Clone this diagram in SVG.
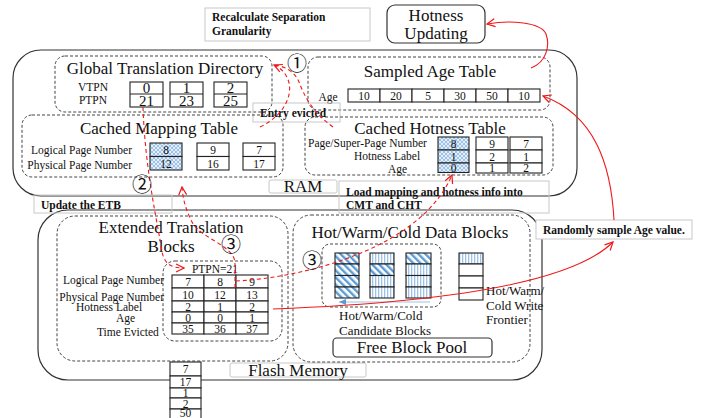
<svg xmlns="http://www.w3.org/2000/svg" width="704" height="418" viewBox="0 0 704 418">
<defs>
<style>
.t{font-family:"Liberation Serif","Times New Roman",serif;fill:#111}
.b{font-family:"Liberation Serif","Times New Roman",serif;font-weight:bold;font-size:11.5px;fill:#111}
.h{font-size:17px}
.s{font-size:11.5px}
.v{font-size:11.5px;text-anchor:middle}
.g{font-size:17px;text-anchor:middle}
.d{font-size:15px;text-anchor:middle}
.cn{font-family:"Noto Sans CJK SC","DejaVu Sans",sans-serif;font-size:20px;text-anchor:middle;fill:#111}
.solid{fill:none;stroke:#333;stroke-width:1.2}
.dash{fill:none;stroke:#444;stroke-width:1;stroke-dasharray:3 2}
.lbl{fill:none;stroke:#c8c8c8;stroke-width:1}
.cell{fill:#fff;stroke:#222;stroke-width:1.1}
.xh{fill:url(#xh);stroke:#222;stroke-width:1.1}
.dg{fill:url(#dg);stroke:#222;stroke-width:1.1}
.vs{fill:url(#vs);stroke:#222;stroke-width:1.1}
.rs{fill:none;stroke:#f01818;stroke-width:1.1}
.rd{fill:none;stroke:#f01818;stroke-width:1.1;stroke-dasharray:4 3}
</style>
<pattern id="xh" width="4" height="4" patternUnits="userSpaceOnUse">
<rect width="4" height="4" fill="#e3eefa"/>
<path d="M0,0 L4,4 M4,0 L0,4" stroke="#8db6e2" stroke-width="0.8"/>
</pattern>
<pattern id="dg" width="5" height="5" patternUnits="userSpaceOnUse" patternTransform="rotate(-45)">
<rect width="5" height="5" fill="#fff"/>
<rect width="2.4" height="5" fill="#5b9bd5"/>
</pattern>
<pattern id="vs" width="3" height="3" patternUnits="userSpaceOnUse">
<rect width="3" height="3" fill="#fff"/>
<rect width="1.3" height="3" fill="#9dc3e6"/>
</pattern>
<marker id="ar" markerUnits="userSpaceOnUse" markerWidth="10" markerHeight="10" refX="9" refY="5" orient="auto">
<path d="M1,1 L9,5 L1,9" fill="none" stroke="#f01818" stroke-width="1.2"/>
</marker>
<marker id="ab" markerUnits="userSpaceOnUse" markerWidth="8" markerHeight="8" refX="7" refY="4" orient="auto">
<path d="M0,1 L7,4 L0,7 Z" fill="#5b9bd5"/>
</marker>
</defs>
<rect width="704" height="418" fill="#fff"/>

<g id="ram">
<rect class="solid" x="13" y="50" width="564" height="146" rx="28"/>
<rect class="lbl" x="269" y="180" width="68" height="13" rx="2"/>
<text class="t g" x="303" y="192">RAM</text>
</g>

<g id="flash">
<rect class="solid" x="38" y="210" width="504" height="170" rx="30"/>
</g>

<g id="recalc">
<rect class="lbl" x="205" y="8" width="165" height="33"/>
<text class="b" x="212" y="21">Recalculate Separation</text>
<text class="b" x="212" y="35">Granularity</text>
</g>

<g id="hotness-updating">
<rect class="solid" x="387" y="5" width="98" height="38" rx="8"/>
<text class="t g" x="436" y="21">Hotness</text>
<text class="t g" x="436" y="39">Updating</text>
</g>

<g id="gtd">
<rect class="dash" x="55" y="56" width="217" height="56" rx="10"/>
<text class="t g" x="165" y="74">Global Translation Directory</text>
<text class="t v" x="93" y="91">VTPN</text>
<text class="t v" x="93" y="104">PTPN</text>
<rect class="cell" x="130" y="82" width="33" height="25"/><line x1="130" y1="94" x2="163" y2="94" stroke="#222"/>
<rect class="cell" x="170" y="82" width="33" height="25"/><line x1="170" y1="94" x2="203" y2="94" stroke="#222"/>
<rect class="cell" x="214" y="82" width="33" height="25"/><line x1="214" y1="94" x2="247" y2="94" stroke="#222"/>
<text class="t d" x="146.5" y="93">0</text><text class="t d" x="146.5" y="106">21</text>
<text class="t d" x="186.5" y="93">1</text><text class="t d" x="186.5" y="106">23</text>
<text class="t d" x="230.5" y="93">2</text><text class="t d" x="230.5" y="106">25</text>
</g>

<g id="sat">
<rect class="dash" x="308" y="57" width="242" height="53" rx="10"/>
<text class="t g" x="430" y="77">Sampled Age Table</text>
<text class="t v" x="328" y="101">Age</text>
<rect class="cell" x="348" y="89" width="32" height="13"/>
<rect class="cell" x="380" y="89" width="32" height="13"/>
<rect class="cell" x="412" y="89" width="32" height="13"/>
<rect class="cell" x="444" y="89" width="32" height="13"/>
<rect class="cell" x="476" y="89" width="32" height="13"/>
<rect class="cell" x="508" y="89" width="32" height="13"/>
<text class="t v" x="364" y="99.5" font-size="11">10</text>
<text class="t v" x="396" y="99.5" font-size="11">20</text>
<text class="t v" x="428" y="99.5" font-size="11">5</text>
<text class="t v" x="460" y="99.5" font-size="11">30</text>
<text class="t v" x="492" y="99.5" font-size="11">50</text>
<text class="t v" x="524" y="99.5" font-size="11">10</text>
</g>

<g id="entry-evicted">
<rect class="lbl" x="253" y="103" width="87" height="19"/>
<text class="b" x="260" y="117">Entry evicted</text>
</g>

<g id="cmt">
<rect class="dash" x="22" y="115" width="261" height="62" rx="10"/>
<text class="t g" x="159" y="134">Cached Mapping Table</text>
<text class="t s" x="132" y="154" text-anchor="end">Logical Page Number</text>
<text class="t s" x="132" y="169" text-anchor="end">Physical Page Number</text>
<rect class="xh" x="150" y="143" width="32" height="13.5"/><rect class="xh" x="150" y="156.5" width="32" height="13.5"/>
<rect class="cell" x="197" y="143" width="32" height="13.5"/><rect class="cell" x="197" y="156.5" width="32" height="13.5"/>
<rect class="cell" x="243" y="143" width="32" height="13.5"/><rect class="cell" x="243" y="156.5" width="32" height="13.5"/>
<text class="t v" x="166" y="154">8</text><text class="t v" x="166" y="167.5">12</text>
<text class="t v" x="213" y="154">9</text><text class="t v" x="213" y="167.5">16</text>
<text class="t v" x="259" y="154">7</text><text class="t v" x="259" y="167.5">17</text>
</g>

<g id="cht">
<rect class="dash" x="305" y="117" width="248" height="58" rx="10"/>
<text class="t g" x="430" y="134">Cached Hotness Table</text>
<text class="t s" x="308" y="147">Page/Super-Page Number</text>
<text class="t s" x="354" y="160">Hotness Label</text>
<text class="t s" x="388" y="173">Age</text>
<rect class="xh" x="438" y="137" width="31" height="13"/><rect class="xh" x="438" y="150" width="31" height="13"/><rect class="xh" x="438" y="163" width="31" height="9.5"/>
<rect class="cell" x="476" y="137" width="32" height="13"/><rect class="cell" x="476" y="150" width="32" height="13"/><rect class="cell" x="476" y="163" width="32" height="10"/>
<rect class="cell" x="510" y="137" width="32" height="13"/><rect class="cell" x="510" y="150" width="32" height="13"/><rect class="cell" x="510" y="163" width="32" height="10"/>
<text class="t v" x="453.5" y="147.5">8</text><text class="t v" x="453.5" y="160.5">1</text><text class="t v" x="453.5" y="171.5">0</text>
<text class="t v" x="492" y="147.5">9</text><text class="t v" x="492" y="160.5">2</text><text class="t v" x="492" y="171.5">1</text>
<text class="t v" x="526" y="147.5">7</text><text class="t v" x="526" y="160.5">1</text><text class="t v" x="526" y="171.5">2</text>
</g>

<g id="update-etb">
<rect class="lbl" x="34" y="195" width="138" height="18"/>
<text class="b" x="41" y="209">Update the ETB</text>
</g>

<g id="load-info">
<rect class="lbl" x="339" y="181" width="210" height="32"/>
<text class="b" x="346" y="196">Load mapping and hotness info into</text>
<text class="b" x="346" y="209">CMT and CHT</text>
</g>

<g id="etb">
<rect class="dash" x="57" y="216" width="231" height="145" rx="18"/>
<text class="t g" x="171" y="233">Extended Translation</text>
<text class="t g" x="171" y="252">Blocks</text>
<rect class="dash" x="163" y="261" width="119" height="80" rx="12"/>
<text class="t v" x="215" y="273" font-size="11">PTPN=21</text>
<text class="t s" x="164" y="284" text-anchor="end">Logical Page Number</text>
<text class="t s" x="164" y="301" text-anchor="end">Physical Page Number</text>
<text class="t s" x="76" y="311">Hotness Label</text>
<text class="t s" x="116" y="322">Age</text>
<text class="t s" x="97" y="336">Time Evicted</text>
<g>
<rect class="cell" x="172" y="275" width="32" height="13"/><rect class="cell" x="204" y="275" width="32" height="13"/><rect class="cell" x="236" y="275" width="32" height="13"/>
<rect class="cell" x="172" y="288" width="32" height="13"/><rect class="cell" x="204" y="288" width="32" height="13"/><rect class="cell" x="236" y="288" width="32" height="13"/>
<rect class="cell" x="172" y="301" width="32" height="11"/><rect class="cell" x="204" y="301" width="32" height="11"/><rect class="cell" x="236" y="301" width="32" height="11"/>
<rect class="cell" x="172" y="312" width="32" height="11"/><rect class="cell" x="204" y="312" width="32" height="11"/><rect class="cell" x="236" y="312" width="32" height="11"/>
<rect class="cell" x="172" y="323" width="32" height="11"/><rect class="cell" x="204" y="323" width="32" height="11"/><rect class="cell" x="236" y="323" width="32" height="11"/>
</g>
<text class="t v" x="188" y="285.5">7</text><text class="t v" x="220" y="285.5">8</text><text class="t v" x="252" y="285.5">9</text>
<text class="t v" x="188" y="298.5">10</text><text class="t v" x="220" y="298.5">12</text><text class="t v" x="252" y="298.5">13</text>
<text class="t v" x="188" y="310.5">2</text><text class="t v" x="220" y="310.5">1</text><text class="t v" x="252" y="310.5">2</text>
<text class="t v" x="188" y="321.5">0</text><text class="t v" x="220" y="321.5">0</text><text class="t v" x="252" y="321.5">1</text>
<text class="t v" x="188" y="332.5">35</text><text class="t v" x="220" y="332.5">36</text><text class="t v" x="252" y="332.5">37</text>
</g>

<g id="evicted-entry">
<rect class="cell" x="170" y="362" width="31" height="14"/>
<rect class="cell" x="170" y="376" width="31" height="12"/>
<rect class="cell" x="170" y="388" width="31" height="10"/>
<rect class="cell" x="170" y="398" width="31" height="11"/>
<rect class="cell" x="170" y="409" width="31" height="12"/>
<text class="t v" x="185.5" y="373">7</text>
<text class="t v" x="185.5" y="386">17</text>
<text class="t v" x="185.5" y="397">1</text>
<text class="t v" x="185.5" y="407.5">2</text>
<text class="t v" x="185.5" y="417" font-size="10.5">50</text>
</g>

<g id="flash-label">
<rect class="lbl" x="230" y="363" width="136" height="14" rx="2"/>
<text class="t g" x="298" y="376">Flash Memory</text>
</g>

<g id="data-blocks">
<rect class="dash" x="293" y="215" width="237" height="147" rx="18"/>
<text class="t g" x="410" y="238">Hot/Warm/Cold Data Blocks</text>
<rect class="dash" x="322" y="244" width="119" height="63" rx="8"/>
<rect class="dg" x="335" y="253" width="24" height="11"/><rect class="dg" x="335" y="264" width="24" height="11.5"/><rect class="dg" x="335" y="275.5" width="24" height="11.5"/><rect class="dg" x="335" y="287" width="24" height="11"/>
<rect class="vs" x="370" y="253" width="24" height="11"/><rect class="dg" x="370" y="264" width="24" height="11.5"/><rect class="vs" x="370" y="275.5" width="24" height="11.5"/><rect class="vs" x="370" y="287" width="24" height="11"/>
<rect class="dg" x="406" y="253" width="25" height="11"/><rect class="vs" x="406" y="264" width="25" height="11.5"/><rect class="vs" x="406" y="275.5" width="25" height="11.5"/><rect class="vs" x="406" y="287" width="25" height="11"/>
<line x1="430" y1="302" x2="339" y2="302" stroke="#9dc3e6" stroke-width="1.2" marker-end="url(#ab)"/>
<text class="t" font-size="13" x="339" y="320">Hot/Warm/Cold</text>
<text class="t" font-size="13" x="339" y="335">Candidate Blocks</text>
<rect class="vs" x="459" y="253" width="24" height="11"/><rect class="cell" x="459" y="264" width="24" height="12"/><rect class="cell" x="459" y="276" width="24" height="12"/><rect class="cell" x="459" y="288" width="24" height="12"/>
<text class="t" font-size="13" x="486" y="295">Hot/Warm/</text>
<text class="t" font-size="13" x="486" y="310">Cold Write</text>
<text class="t" font-size="13" x="486" y="324">Frontier</text>
<rect class="solid" x="333" y="338" width="159" height="19" rx="4"/>
<text class="t g" x="412" y="353">Free Block Pool</text>
</g>

<g id="random-sample">
<rect x="536" y="220" width="156" height="19" fill="#fff" stroke="#c8c8c8"/>
<text class="b" x="543" y="234">Randomly sample Age value.</text>
</g>

<g id="connectors">
<path class="rs" d="M531,68 C547,62 550,45 546,34 C541,22 510,20 487,24" marker-end="url(#ar)"/>
<path class="rs" d="M614,220 C611,165 595,115 543,96" marker-end="url(#ar)"/>
<path class="rs" d="M273,309 C430,303 570,285 613,242" marker-end="url(#ar)"/>
<path class="rd" d="M236,281 C300,278 420,250 452,175" marker-end="url(#ar)"/>
<path class="rd" d="M143,107 C145,170 158,225 162,252 C165,265 172,268 184,268" marker-end="url(#ar)"/>
<path class="rd" d="M235,288 L235,262 C233,245 200,238 192,222 C186,210 183,200 182,187" marker-end="url(#ar)"/>
<path class="rd" d="M260,127 C285,115 292,95 289,83 C287,74 281,68 274,65" marker-end="url(#ar)"/>
<path class="rd" d="M333,127 C312,112 304,95 299,82 C295,72 285,66 274,65"/>
</g>

<g id="steps">
<text class="cn" x="297" y="70.5">①</text>
<text class="cn" x="142" y="191.5">②</text>
<text class="cn" x="231" y="251.5">③</text>
<text class="cn" x="312" y="267.5">③</text>
</g>
</svg>
